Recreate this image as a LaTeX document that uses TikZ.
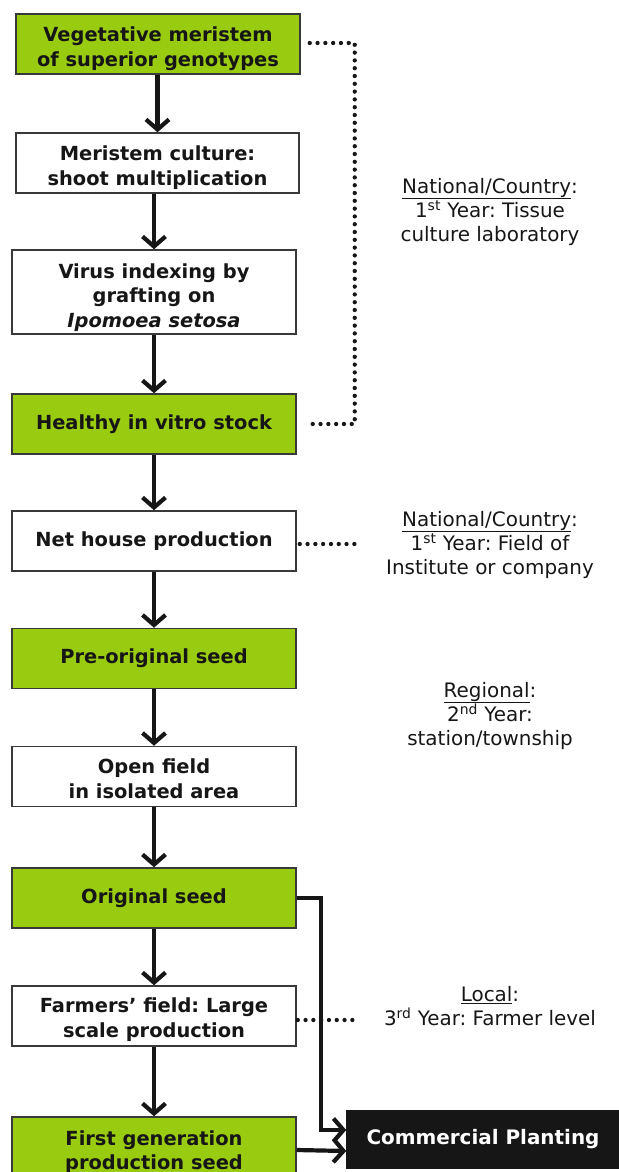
\documentclass[tikz,border=0pt]{standalone}
\usepackage{fontspec}
\setmainfont{DejaVu Sans}
\usetikzlibrary{arrows.meta,calc}
\definecolor{lgreen}{RGB}{153,204,17}
\definecolor{ink}{RGB}{22,22,22}
\frenchspacing
\newcommand{\lowerby}[1]{\rule{0pt}{#1}}
\begin{document}
\begin{tikzpicture}[x=1bp,y=-1bp,
 box/.style={draw=ink!85, line width=1.5bp, rectangle, minimum width=284bp, minimum height=60bp, align=center, font=\fontsize{19.5}{25}\selectfont\bfseries, inner sep=0pt, text=ink},
 gbox/.style={box, fill=lgreen},
 wbox/.style={box, fill=white},
 arr/.style={line width=4.2bp, draw=ink, -{Straight Barb[length=10bp,width=23bp]}},
 dots/.style={line width=4.3bp, line cap=round, dash pattern=on 0bp off 7.8bp, draw=ink},
 note/.style={align=center, font=\fontsize{20}{24.5}\selectfont, text=ink}]
\useasboundingbox (0,0) rectangle (619,1172);
\clip (0,0) rectangle (619,1172);

\node[gbox] (b1) at (158,44) {\lowerby{24bp}Vegetative meristem\\of superior genotypes};
\node[wbox, minimum width=283bp] (b2) at (157.5,163) {\lowerby{23.5bp}Meristem culture:\\shoot multiplication};
\node[wbox, minimum height=84bp] (b3) at (154,292) {\lowerby{26bp}Virus indexing by\\grafting on\\\textit{Ipomoea setosa}};
\node[gbox] (b4) at (154,424) {Healthy in vitro stock};
\node[wbox] (b5) at (154,541) {Net house production};
\node[gbox] (b6) at (154,658.5) {Pre-original seed};
\node[wbox] (b7) at (154,776.5) {\lowerby{20bp}Open field\\in isolated area};
\node[gbox] (b8) at (154,898) {Original seed};
\node[wbox] (b9) at (154,1016) {\lowerby{22.5bp}Farmers’ field: Large\\scale production};
\node[gbox] (b10) at (154,1147) {\lowerby{25bp}First generation\\production seed};
\node[box, fill=ink, draw=ink, text=white, font=\fontsize{20}{25}\selectfont\bfseries, minimum width=272bp, minimum height=57bp] (cp) at (483,1139.5) {Commercial Planting};

\foreach \a/\b in {b1/b2,b2/b3,b3/b4,b4/b5,b5/b6,b6/b7,b7/b8,b8/b9,b9/b10}
  \draw[arr] (\a.south -| \b.north) -- (\b.north);

\draw[arr] (b8.east) -| ($(cp.west)+(-25,-9.5)$) -- ($(cp.west)+(0,-9.5)$);
\draw[arr] ($(b10.east)+(0,3)$) -- ($(cp.west |- b10.east)+(0,4)$);

\draw[dots] ($(b1.east)+(9,-1)$) -- ++(45,0) |- ($(b4.east)+(15,0)$);
\draw[dots] ($(b5.east)+(3,3)$) -- ++(57,0);
\draw[dots] ($(b9.east)+(1,4)$) -- ++(57,0);

\node[note] (n1) at (490,212) {\underline{National/Country}:\\1\textsuperscript{st} Year: Tissue\\culture laboratory};
\node[note] (n2) at (490,545) {\underline{National/Country}:\\1\textsuperscript{st} Year: Field of\\Institute or company};
\node[note] (n3) at (490,716) {\underline{Regional}:\\2\textsuperscript{nd} Year:\\station/township};
\node[note] (n4) at (490,1006) {\underline{Local}:\\3\textsuperscript{rd} Year: Farmer level};
\end{tikzpicture}
\end{document}
